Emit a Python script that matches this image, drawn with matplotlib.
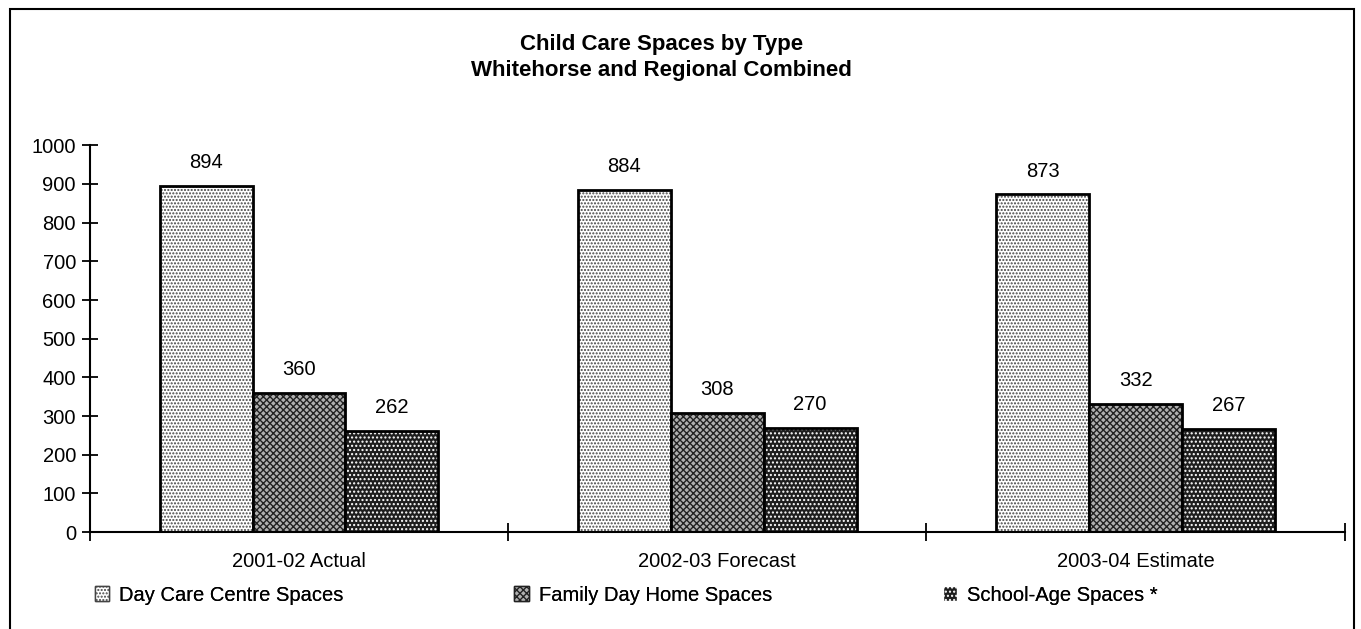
import numpy as np
import matplotlib.pyplot as plt
from matplotlib.patches import Rectangle, Patch

plt.rcParams['font.family'] = ['Liberation Sans', 'DejaVu Sans']
plt.rcParams['hatch.linewidth'] = 1.0

# datos
periodos = ["2001-02 Actual", "2002-03 Forecast", "2003-04 Estimate"]
series = ["Day Care Centre Spaces", "Family Day Home Spaces", "School-Age Spaces *"]
guarderia = [894, 884, 873]
familiar = [360, 308, 332]
escolar = [262, 270, 267]

valores = [guarderia, familiar, escolar]
fondos = ['#ffffff', '#b0b0b0', '#1e1e1e']
tramas = ['.....', 'xxxxx', '....']
colTrama = ['#444444', '#222222', '#ffffff']

fig = plt.figure(figsize=(13.61, 6.29), dpi=100)
ax = fig.add_axes([0.066, 0.154, 0.922, 0.615])

x = np.arange(len(periodos))
ancho = 0.222
for k in range(3):
    pos = x + (k - 1) * ancho
    ax.bar(pos, valores[k], ancho, color=fondos[k], hatch=tramas[k],
           edgecolor=colTrama[k], linewidth=0)
    ax.bar(pos, valores[k], ancho, fill=False, edgecolor='black', linewidth=2)
    for p, v in zip(pos, valores[k]):
        ax.annotate(str(v), (p, v), xytext=(0, 10), textcoords='offset points',
                    ha='center', va='bottom', fontsize=14.5)

ax.set_xlim(-0.5, 2.5)
ax.set_ylim(0, 1000)
ax.set_yticks(range(0, 1001, 100))
ax.set_xticks(x)
ax.set_xticklabels(periodos, fontsize=14.5)
ax.set_xticks([-0.5, 0.5, 1.5, 2.5], minor=True)
ax.tick_params(axis='x', which='major', length=0, pad=14)
ax.tick_params(axis='x', which='minor', length=13, width=1.3, direction='inout')
ax.tick_params(axis='y', length=12, width=1.3, direction='inout', labelsize=14.5, pad=4)
ax.spines['top'].set_visible(False)
ax.spines['right'].set_visible(False)
ax.spines['left'].set_linewidth(1.5)
ax.spines['bottom'].set_linewidth(1.5)

fig.text(0.486, 0.921, "Child Care Spaces by Type", ha='center', va='baseline',
         fontsize=16, fontweight='bold')
fig.text(0.486, 0.879, "Whitehorse and Regional Combined", ha='center', va='baseline',
         fontsize=16, fontweight='bold')

# leyenda
posLeyenda = [0.070, 0.378, 0.693]
for k in range(3):
    h = Patch(facecolor=fondos[k], hatch=tramas[k], edgecolor=colTrama[k])
    leg = fig.legend([h], [series[k]], loc='center left', bbox_to_anchor=(posLeyenda[k], 0.054),
                     frameon=False, fontsize=14.5, handlelength=0.7, handleheight=0.7,
                     handletextpad=0.5, borderpad=0, borderaxespad=0)
    fig.add_artist(leg)

fig.patches.append(Rectangle((0.007, -0.05), 0.988, 1.036, transform=fig.transFigure,
                             fill=False, edgecolor='black', linewidth=1.5))

fig.savefig('out.png', dpi=100)
